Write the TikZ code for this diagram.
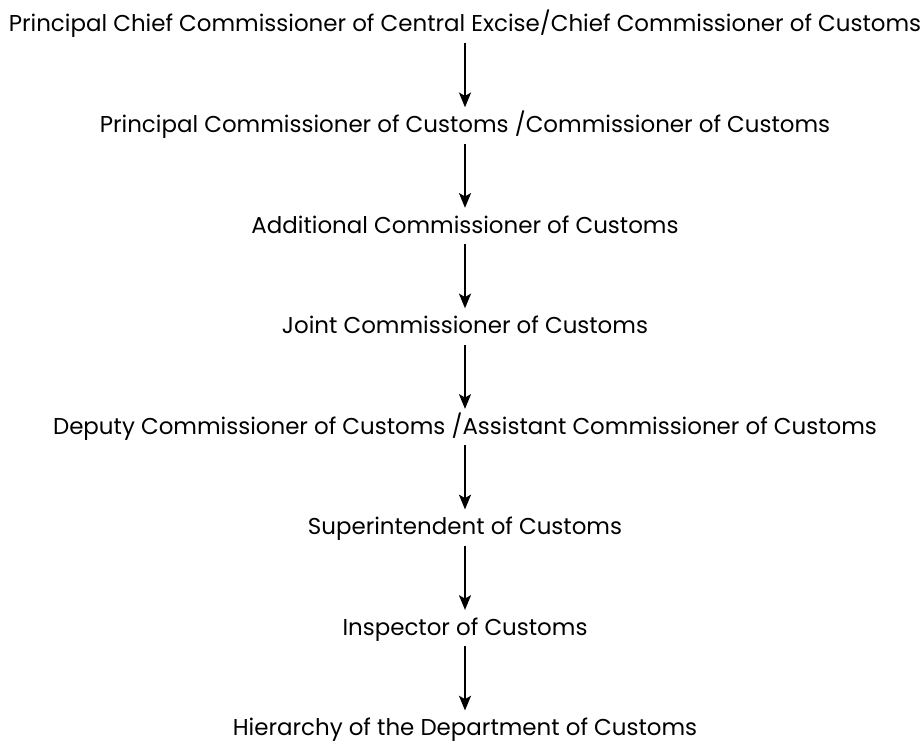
\documentclass[tikz,border=0pt]{standalone}
\usepackage{fontspec}
\setmainfont{Poppins}
\usepackage{tikz}
\usetikzlibrary{arrows.meta, positioning}

\begin{document}
\begin{tikzpicture}[
    node distance=48pt,
    rank/.style={inner sep=0pt, text height=18.75pt, text depth=8.25pt, font=\fontsize{17.2}{20}\selectfont},
    arrow/.style={line width=1.5pt,->,>={Stealth[length=11pt,width=9pt,inset=2.5pt]}}
]
\useasboundingbox (-348.75pt,18.75pt) rectangle (343.5pt,-542.25pt);

\node (pchief) [rank] {Principal Chief Commissioner of Central Excise/Chief Commissioner of Customs};
\node (pcomm) [rank, below=of pchief] {Principal Commissioner of Customs /Commissioner of Customs};
\node (addl) [rank, below=of pcomm] {Additional Commissioner of Customs};
\node (joint) [rank, below=of addl] {Joint Commissioner of Customs};
\node (deputy) [rank, below=of joint] {Deputy Commissioner of Customs /Assistant Commissioner of Customs};
\node (supdt) [rank, below=of deputy] {Superintendent of Customs};
\node (insp) [rank, below=of supdt] {Inspector of Customs};
\node (title) [rank, below=of insp] {Hierarchy of the Department of Customs};

\draw [arrow] (pchief) -- (pcomm);
\draw [arrow] (pcomm) -- (addl);
\draw [arrow] (addl) -- (joint);
\draw [arrow] (joint) -- (deputy);
\draw [arrow] (deputy) -- (supdt);
\draw [arrow] (supdt) -- (insp);
\draw [arrow] (insp) -- (title);

\end{tikzpicture}
\end{document}
